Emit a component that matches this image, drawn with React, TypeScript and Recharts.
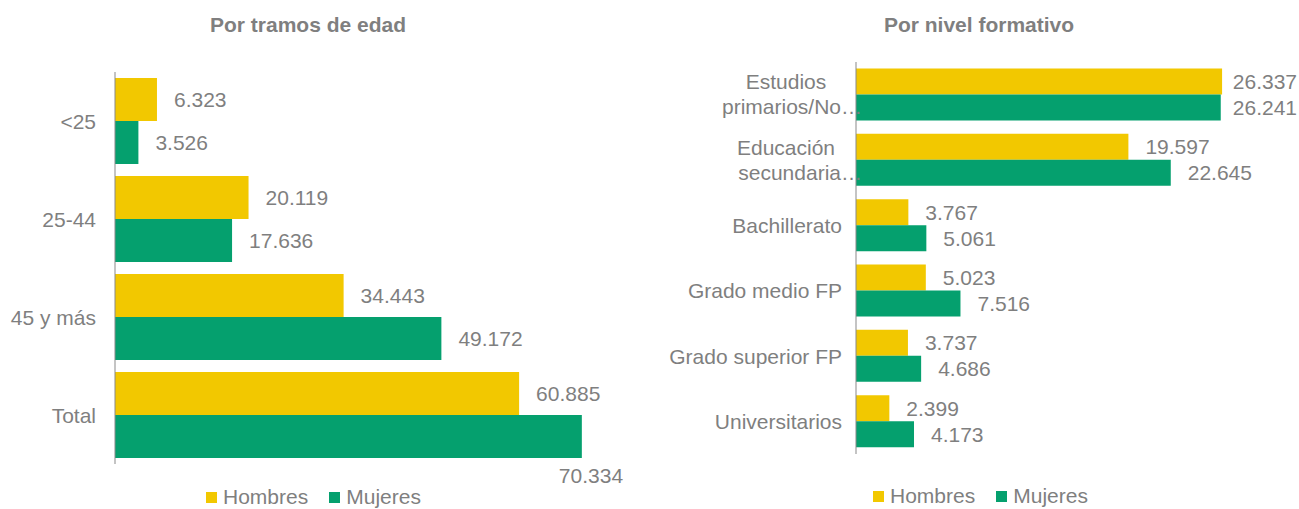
import React from 'react';
import { BarChart, Bar, XAxis, YAxis, Legend, LabelList } from 'recharts';

const AGE_GROUPS = ['<25', '25-44', '45 y más', 'Total'];
const AGE_HOMBRES = [6323, 20119, 34443, 60885];
const AGE_MUJERES = [3526, 17636, 49172, 70334];

const EDU_LEVELS = [
  'Estudios\nprimarios/No…',
  'Educación\nsecundaria…',
  'Bachillerato',
  'Grado medio FP',
  'Grado superior FP',
  'Universitarios',
];
const EDU_HOMBRES = [26337, 19597, 3767, 5023, 3737, 2399];
const EDU_MUJERES = [26241, 22645, 5061, 7516, 4686, 4173];

const YELLOW = '#F2C800';
const GREEN = '#05A06E';
const GREY = '#7f7f7f';
const FONT = '"Liberation Sans", Arial, sans-serif';
const FS = 21;
const LEGEND_H = 24;

const ageData = AGE_GROUPS.map((name, i) => ({ name, hombres: AGE_HOMBRES[i], mujeres: AGE_MUJERES[i] }));
const eduData = EDU_LEVELS.map((name, i) => ({ name, hombres: EDU_HOMBRES[i], mujeres: EDU_MUJERES[i] }));

const fmt = (v: number) => String(v).replace(/\B(?=(\d{3})+(?!\d))/g, '.');
const textWidth = (s: string) => s.split('').reduce((w, c) => w + (c === '.' ? 0.278 : 0.556), 0) * FS;

// label outside the bar end; if it doesn't fit, either drop below the bar or pull it back in
const makeLabel = (limit: number, mode: 'below' | 'clamp') => (props: any) => {
  const { x, y, width, height, value } = props;
  const text = fmt(value);
  const w = textWidth(text);
  let tx = x + width + 17;
  let ty = y + height / 2;
  if (tx + w > limit) {
    if (mode === 'below') {
      tx = x + width - 23;
      ty = y + height + 17;
    } else {
      tx = limit - w;
    }
  }
  return (
    <text x={tx} y={ty} fill={GREY} fontSize={FS} fontFamily={FONT} dominantBaseline="central">
      {text}
    </text>
  );
};

const CategoryTick = (props: any) => {
  const { x, y, payload } = props;
  const lines = String(payload.value).split('\n');
  if (lines.length === 1) {
    return (
      <text x={x} y={y} textAnchor="end" dominantBaseline="central" fill={GREY} fontSize={FS} fontFamily={FONT}>
        {lines[0]}
      </text>
    );
  }
  // wrapped label: first line roughly centred, second (truncated) line runs over the axis
  return (
    <g fill={GREY} fontSize={FS} fontFamily={FONT}>
      <text x={x - 56} y={y - 13} textAnchor="middle" dominantBaseline="central">
        {lines[0]}
      </text>
      <text x={x + 20} y={y + 12} textAnchor="end" dominantBaseline="central">
        {lines[1]}
      </text>
    </g>
  );
};

const renderLegend = (props: any) => {
  const { payload } = props;
  return (
    <div style={{ display: 'flex', alignItems: 'flex-start', height: LEGEND_H, fontFamily: FONT, fontSize: FS, color: GREY, whiteSpace: 'nowrap' }}>
      {payload.map((p: any, i: number) => (
        <div key={i} style={{ display: 'flex', alignItems: 'flex-start', marginRight: 21 }}>
          <div style={{ width: 11, height: 11, background: p.color, marginRight: 6, marginTop: 7 }} />
          <span style={{ lineHeight: '24px' }}>{p.value}</span>
        </div>
      ))}
    </div>
  );
};

const titleStyle = (center: number): React.CSSProperties => ({
  position: 'absolute',
  left: center - 200,
  width: 400,
  top: 13,
  lineHeight: '24px',
  textAlign: 'center',
  fontFamily: FONT,
  fontWeight: 'bold',
  fontSize: 21,
  color: GREY,
});

export default function App() {
  return (
    <div style={{ position: 'absolute', left: 0, top: 0, width: 1299, height: 509, background: '#fff' }}>
      <div style={titleStyle(308)}>Por tramos de edad</div>
      <div style={titleStyle(979)}>Por nivel formativo</div>

      <div style={{ position: 'absolute', left: 0, top: 0 }}>
        <BarChart
          width={650}
          height={509}
          data={ageData}
          layout="vertical"
          margin={{ top: 72, right: 4, bottom: 45 - LEGEND_H, left: 0 }}
          barCategoryGap={6}
          barGap={0}
        >
          <XAxis type="number" domain={[0, 80000]} hide />
          <YAxis
            type="category"
            dataKey="name"
            width={115}
            axisLine={{ stroke: '#898989' }}
            tickLine={false}
            tickSize={0}
            tickMargin={19}
            tick={<CategoryTick />}
          />
          <Legend content={renderLegend} wrapperStyle={{ left: 206, top: 485, width: 'auto', height: LEGEND_H }} />
          <Bar dataKey="hombres" name="Hombres" fill={YELLOW} isAnimationActive={false}>
            <LabelList dataKey="hombres" content={makeLabel(650, 'below')} />
          </Bar>
          <Bar dataKey="mujeres" name="Mujeres" fill={GREEN} isAnimationActive={false}>
            <LabelList dataKey="mujeres" content={makeLabel(650, 'below')} />
          </Bar>
        </BarChart>
      </div>

      <div style={{ position: 'absolute', left: 650, top: 0 }}>
        <BarChart
          width={649}
          height={509}
          data={eduData}
          layout="vertical"
          margin={{ top: 62, right: 26, bottom: 55 - LEGEND_H, left: 0 }}
          barCategoryGap={6.5}
          barGap={0}
        >
          <XAxis type="number" domain={[0, 30000]} hide />
          <YAxis
            type="category"
            dataKey="name"
            width={206}
            axisLine={{ stroke: '#898989' }}
            tickLine={false}
            tickSize={0}
            tickMargin={14}
            tick={<CategoryTick />}
          />
          <Legend content={renderLegend} wrapperStyle={{ left: 223, top: 484, width: 'auto', height: LEGEND_H }} />
          <Bar dataKey="hombres" name="Hombres" fill={YELLOW} isAnimationActive={false}>
            <LabelList dataKey="hombres" content={makeLabel(647, 'clamp')} />
          </Bar>
          <Bar dataKey="mujeres" name="Mujeres" fill={GREEN} isAnimationActive={false}>
            <LabelList dataKey="mujeres" content={makeLabel(647, 'clamp')} />
          </Bar>
        </BarChart>
      </div>
    </div>
  );
}
